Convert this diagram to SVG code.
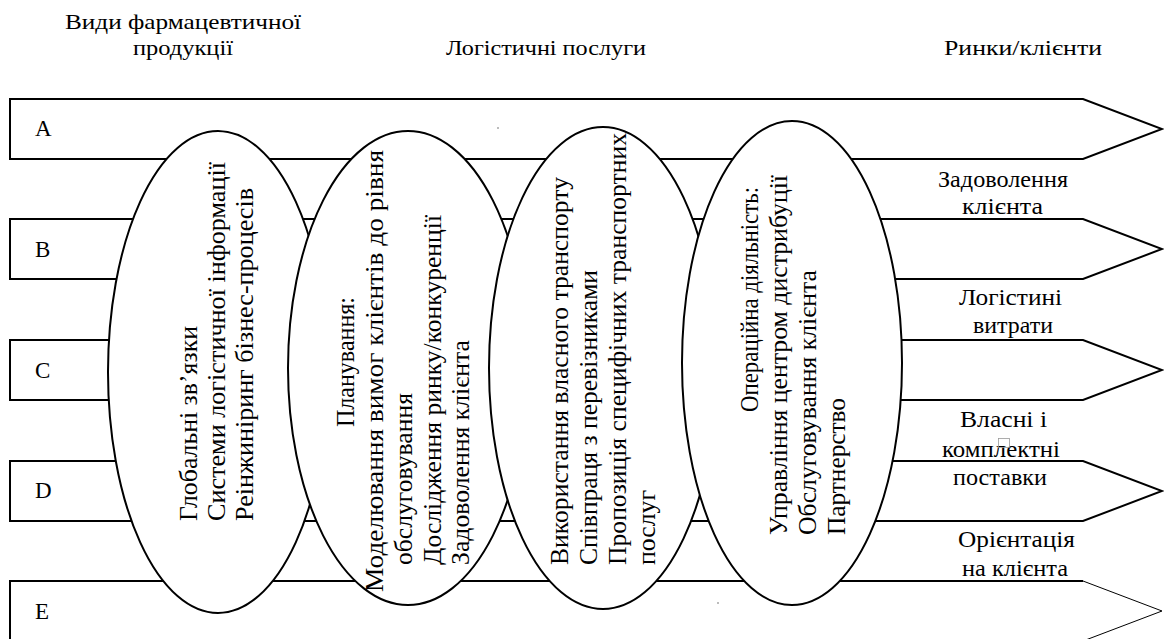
<svg xmlns="http://www.w3.org/2000/svg" width="1164" height="639" viewBox="0 0 1164 639">
<style>
text { font-family: "Liberation Serif", "Times New Roman", "DejaVu Serif", serif; fill: #000; }
.hdr { font-size: 21px; text-anchor: middle; }
.lbl { font-size: 23px; }
.rl { font-size: 24px; }
.band { fill: none; stroke: #000; stroke-width: 2; }
.band-thin { fill: none; stroke: #000; stroke-width: 1; }
.ell { fill: #fff; stroke: #000; stroke-width: 2; }
.et { font-size: 24.5px; }
</style>
<rect x="0" y="0" width="1164" height="639" fill="#fff"/>

<g id="headers">
<text class="hdr" x="183" y="29" textLength="236" lengthAdjust="spacingAndGlyphs">Види фармацевтичної</text>
<text class="hdr" x="183" y="55" textLength="100" lengthAdjust="spacingAndGlyphs">продукції</text>
<text class="hdr" x="546" y="55" textLength="200" lengthAdjust="spacingAndGlyphs">Логістичні послуги</text>
<text class="hdr" x="1023" y="55" textLength="158" lengthAdjust="spacingAndGlyphs">Ринки/клієнти</text>
</g>

<g id="connectors">
<g id="band-A"><path class="band" d="M10,99 H1083 L1162,129 L1083,159 H10 Z"/></g>
<g id="band-B"><path class="band" d="M10,219 H1083 L1162,249 L1083,279 H10 Z"/></g>
<g id="band-C"><path class="band" d="M10,340 H1083 L1162,370 L1083,400 H10 Z"/></g>
<g id="band-D"><path class="band" d="M10,461 H1083 L1162,491 L1083,521 H10 Z"/></g>
<g id="band-E"><path class="band" d="M1083,581 H10 V645"/><path class="band-thin" d="M1083,581 L1162,611 L1083,641"/></g>
</g>

<g id="band-labels">
<text class="lbl" x="35" y="136">A</text>
<text class="lbl" x="35" y="257">B</text>
<text class="lbl" x="35" y="378">C</text>
<text class="lbl" x="35" y="498">D</text>
<text class="lbl" x="35" y="619">E</text>
</g>

<g id="node-1">
<ellipse class="ell" cx="218" cy="372" rx="110" ry="241"/>
<text class="et" transform="translate(197,521) rotate(-90)"><tspan x="0" y="0" textLength="195" lengthAdjust="spacingAndGlyphs">Глобальні зв’язки</tspan><tspan x="0" y="28" textLength="359" lengthAdjust="spacingAndGlyphs">Системи логістичної інформації</tspan><tspan x="0" y="56" textLength="333" lengthAdjust="spacingAndGlyphs">Реінжиніринг бізнес-процесів</tspan></text>
</g>

<g id="node-2">
<ellipse class="ell" cx="408" cy="368" rx="120" ry="237"/>
<text class="et" transform="translate(354,427) rotate(-90)" textLength="130" lengthAdjust="spacingAndGlyphs">Планування:</text>
<text class="et" transform="translate(383,592) rotate(-90)" textLength="442" lengthAdjust="spacingAndGlyphs">Моделювання вимог клієнтів до рівня</text>
<text class="et" transform="translate(412,565) rotate(-90)"><tspan x="0" y="0" textLength="172" lengthAdjust="spacingAndGlyphs">обслуговування</tspan><tspan x="0" y="28.5" textLength="350" lengthAdjust="spacingAndGlyphs">Дослідження ринку/конкуренції</tspan><tspan x="0" y="56.5" textLength="225" lengthAdjust="spacingAndGlyphs">Задоволення клієнта</tspan></text>
</g>

<g id="node-3">
<ellipse class="ell" cx="603" cy="368" rx="114" ry="241"/>
<text class="et" transform="translate(568,565) rotate(-90)"><tspan x="0" y="0" textLength="388" lengthAdjust="spacingAndGlyphs">Використання власного транспорту</tspan><tspan x="0" y="29" textLength="295" lengthAdjust="spacingAndGlyphs">Співпраця з перевізниками</tspan><tspan x="0" y="58" textLength="432" lengthAdjust="spacingAndGlyphs">Пропозиція специфічних транспортних</tspan><tspan x="0" y="87" textLength="75" lengthAdjust="spacingAndGlyphs">послуг</tspan></text>
</g>

<g id="node-4">
<ellipse class="ell" cx="792" cy="363" rx="110" ry="242"/>
<text class="et" transform="translate(758,412) rotate(-90)" textLength="225" lengthAdjust="spacingAndGlyphs">Операційна діяльність:</text>
<text class="et" transform="translate(787,535) rotate(-90)"><tspan x="0" y="0" textLength="360" lengthAdjust="spacingAndGlyphs">Управління центром дистрибуції</tspan><tspan x="0" y="29" textLength="265" lengthAdjust="spacingAndGlyphs">Обслуговування клієнта</tspan><tspan x="0" y="58" textLength="137" lengthAdjust="spacingAndGlyphs">Партнерство</tspan></text>
</g>

<g id="market-labels">
<text class="rl" x="938" y="187" textLength="130" lengthAdjust="spacingAndGlyphs">Задоволення</text>
<text class="rl" x="962" y="214" textLength="81" lengthAdjust="spacingAndGlyphs">клієнта</text>
<text class="rl" x="959" y="305" textLength="103" lengthAdjust="spacingAndGlyphs">Логістині</text>
<text class="rl" x="973" y="333" textLength="80" lengthAdjust="spacingAndGlyphs">витрати</text>
<text class="rl" x="960" y="427" textLength="87" lengthAdjust="spacingAndGlyphs">Власні і</text>
<text class="rl" x="942" y="457" textLength="118" lengthAdjust="spacingAndGlyphs">комплектні</text>
<text class="rl" x="953" y="485" textLength="94" lengthAdjust="spacingAndGlyphs">поставки</text>
<text class="rl" x="958" y="547" textLength="117" lengthAdjust="spacingAndGlyphs">Орієнтація</text>
<text class="rl" x="962" y="576" textLength="106" lengthAdjust="spacingAndGlyphs">на клієнта</text>
</g>

<g id="marks">
<rect x="998.5" y="438.5" width="11" height="9" fill="none" stroke="#999" stroke-width="0.8"/>
<circle cx="498" cy="128" r="0.8" fill="#666"/>
<circle cx="718" cy="603" r="0.8" fill="#666"/>
</g>
</svg>
